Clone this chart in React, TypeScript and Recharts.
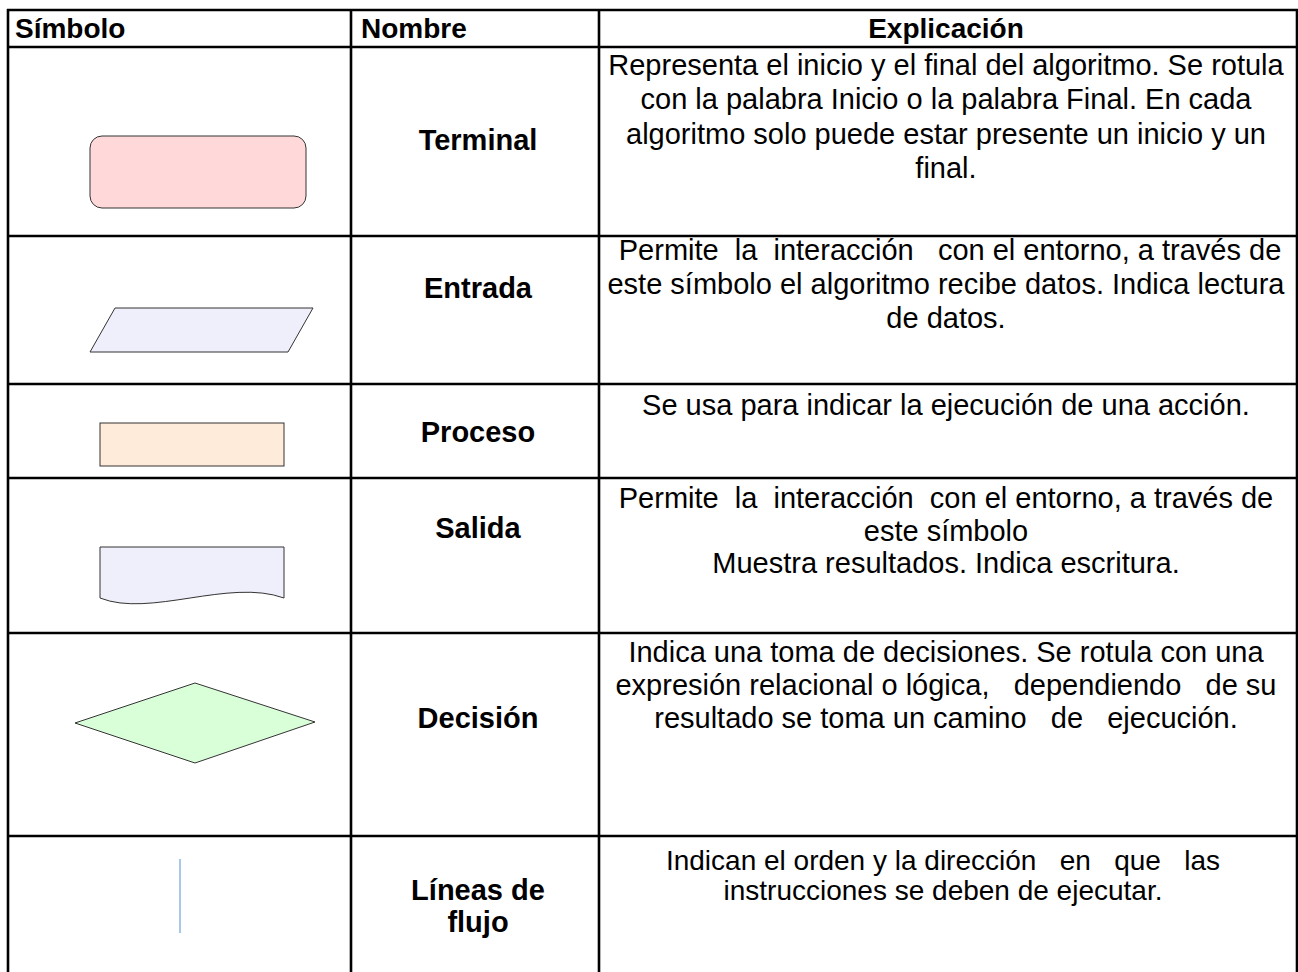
import { ScatterChart, Scatter, XAxis, YAxis, ReferenceLine } from 'recharts'

const W = 1298
const H = 972

// table content
const headers = ['Símbolo', 'Nombre', 'Explicación']
const symbolKinds = ['terminal', 'entrada', 'proceso', 'salida', 'decision', 'flujo']
const names = [['Terminal'], ['Entrada'], ['Proceso'], ['Salida'], ['Decisión'], ['Líneas de', 'flujo']]
const explanations = [
  [
    'Representa el inicio y el final del algoritmo. Se rotula',
    'con la palabra Inicio o la palabra Final. En cada',
    'algoritmo solo puede estar presente un inicio y un',
    'final.',
  ],
  [
    ' Permite  la  interacción   con el entorno, a través de',
    'este símbolo el algoritmo recibe datos. Indica lectura',
    'de datos.',
  ],
  ['Se usa para indicar la ejecución de una acción.'],
  [
    'Permite  la  interacción  con el entorno, a través de',
    'este símbolo',
    'Muestra resultados. Indica escritura.',
  ],
  [
    'Indica una toma de decisiones. Se rotula con una',
    'expresión relacional o lógica,   dependiendo   de su',
    'resultado se toma un camino   de   ejecución.',
  ],
  [
    'Indican el orden y la dirección   en   que   las',
    'instrucciones se deben de ejecutar.',
  ],
]

// layout (page px)
const COLS = [8, 351, 599, 1297]
const ROWS = [10, 47, 236, 384, 478, 633, 836]
const headerX = [15, 361, 946]
const symbolCenter = [
  { x: 198, y: 172 },
  { x: 201.5, y: 330 },
  { x: 192, y: 444.5 },
  { x: 192, y: 573 },
  { x: 195, y: 723 },
  { x: 180, y: 896 },
]
const nameX = 478
const nameY = [140, 288, 432, 528, 718, 890]
const textX = [946, 946, 946, 946, 946, 943]
const textY = [65, 250, 405, 498, 652, 860]
const textGap = [34.3, 34, 34, 32.5, 33, 30]
const textSize = [29, 29, 29, 29, 29, 28]

const FONT = '"Liberation Sans", Arial, Helvetica, sans-serif'
const STROKE = '#333333'

const headerData = headers.map((label, i) => ({ x: headerX[i], y: 28, label, i }))
const symbolData = symbolKinds.map((kind, i) => ({ x: symbolCenter[i].x, y: symbolCenter[i].y, kind }))
const nameData = names.map((lines, i) => ({ x: nameX, y: nameY[i], lines }))
const textData = explanations.map((lines, i) => ({ x: textX[i], y: textY[i], lines, gap: textGap[i], size: textSize[i] }))

const SymbolShape = (props: any) => {
  const { cx, cy, payload } = props
  switch (payload.kind) {
    case 'terminal':
      return <rect x={cx - 108} y={cy - 36} width={216} height={72} rx={12} fill="#FFD9D9" stroke={STROKE} strokeWidth={1} />
    case 'entrada':
      return (
        <polygon
          points={`${cx - 86.5},${cy - 22} ${cx + 111.5},${cy - 22} ${cx + 86.5},${cy + 22} ${cx - 111.5},${cy + 22}`}
          fill="#EFEFFC" stroke={STROKE} strokeWidth={1}
        />
      )
    case 'proceso':
      return <rect x={cx - 92} y={cy - 21.5} width={184} height={43} fill="#FFEBD9" stroke={STROKE} strokeWidth={1} />
    case 'salida': {
      const l = cx - 92, r = cx + 92, t = cy - 26, b = cy + 25
      return (
        <path
          d={`M${l},${b} L${l},${t} L${r},${t} L${r},${b} C${r - 55},${b - 20} ${l + 50},${b + 20} ${l},${b} Z`}
          fill="#EFEFFC" stroke={STROKE} strokeWidth={1}
        />
      )
    }
    case 'decision':
      return (
        <polygon
          points={`${cx - 120},${cy} ${cx},${cy - 40} ${cx + 120},${cy - 1} ${cx},${cy + 40}`}
          fill="#D9FFD9" stroke={STROKE} strokeWidth={1}
        />
      )
    default:
      return <line x1={cx} x2={cx} y1={cy - 37} y2={cy + 37} stroke="#8EB4E3" strokeWidth={1.5} />
  }
}

const HeaderLabel = (props: any) => {
  const { cx, cy, payload } = props
  return (
    <text x={cx} y={cy} textAnchor={payload.i === 2 ? 'middle' : 'start'} dominantBaseline="central"
      fontFamily={FONT} fontSize={28} fontWeight={700} fill="#000">
      {payload.label}
    </text>
  )
}

const NameLabel = (props: any) => {
  const { cx, cy, payload } = props
  return (
    <text textAnchor="middle" dominantBaseline="central" fontFamily={FONT} fontSize={29} fontWeight={700} fill="#000">
      {payload.lines.map((s: string, k: number) => (
        <tspan key={k} x={cx} y={cy + k * 32}>{s}</tspan>
      ))}
    </text>
  )
}

const TextBlock = (props: any) => {
  const { cx, cy, payload } = props
  return (
    <text textAnchor="middle" dominantBaseline="central" fontFamily={FONT} fontSize={payload.size} fill="#000"
      style={{ whiteSpace: 'pre' }}>
      {payload.lines.map((s: string, k: number) => (
        <tspan key={k} x={cx} y={cy + k * payload.gap}>{s}</tspan>
      ))}
    </text>
  )
}

export default function App() {
  return (
    <div style={{ position: 'absolute', left: 0, top: 0, width: W, height: H, background: '#fff' }}>
      <ScatterChart width={W} height={H} margin={{ top: 0, right: 0, bottom: 0, left: 0 }}>
        <XAxis type="number" dataKey="x" domain={[0, W]} allowDataOverflow hide />
        <YAxis type="number" dataKey="y" domain={[0, H]} allowDataOverflow reversed hide />

        {ROWS.map((y) => (
          <ReferenceLine key={`h${y}`} segment={[{ x: COLS[0] - 1, y }, { x: COLS[3] + 1, y }]} stroke="#000" strokeWidth={2.6} />
        ))}
        {COLS.map((x) => (
          <ReferenceLine key={`v${x}`} segment={[{ x, y: ROWS[0] - 1 }, { x, y: H }]} stroke="#000" strokeWidth={2.6} />
        ))}

        <Scatter data={symbolData} shape={SymbolShape} isAnimationActive={false} />
        <Scatter data={headerData} shape={HeaderLabel} isAnimationActive={false} />
        <Scatter data={nameData} shape={NameLabel} isAnimationActive={false} />
        <Scatter data={textData} shape={TextBlock} isAnimationActive={false} />
      </ScatterChart>
    </div>
  )
}
